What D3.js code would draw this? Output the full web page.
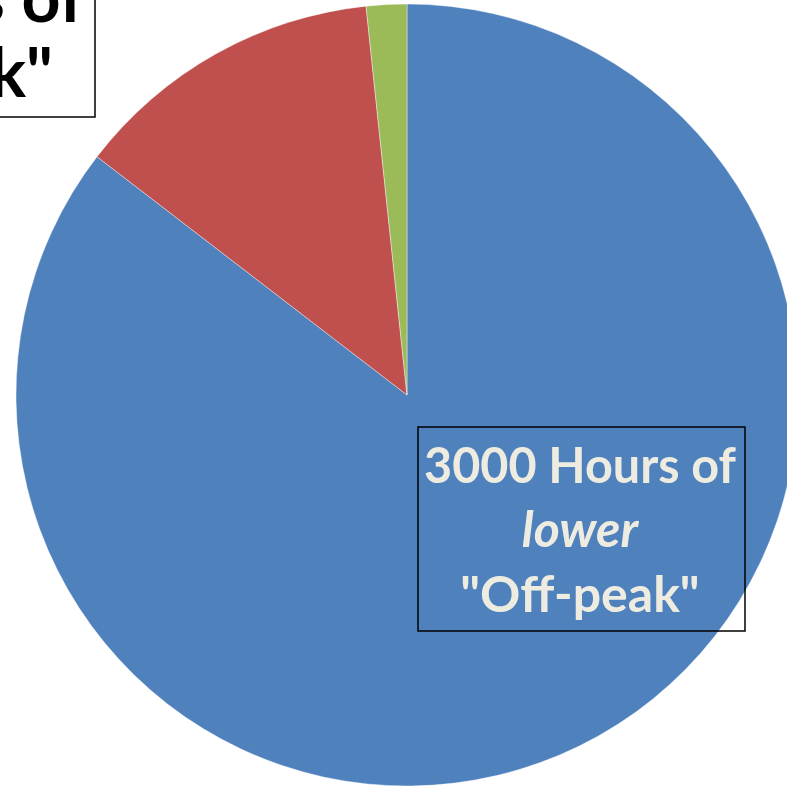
<!DOCTYPE html>
<html>
<head>
<meta charset="utf-8">
<script src="https://cdn.jsdelivr.net/npm/d3@7"></script>
<style>
  html, body { margin: 0; padding: 0; background: #ffffff; overflow: hidden; }
  svg { display: block; }
</style>
</head>
<body>
<div id="chart"></div>
<script>
// Share of the year by tariff period (percent of total)
const categories = ["Off-peak", "Peak", "Critical peak"];
const values = [85.43, 12.90, 1.67];
const colors = ["#4F81BD", "#C0504D", "#9BBB59"];

// Callout texts
const offPeakLines = [
  { text: "3000 Hours of", italic: false },
  { text: "lower", italic: true },
  { text: "\"Off-peak\"", italic: false }
];
const peakLines = ["Hours of", "\"On-peak\""];

const W = 787, H = 788;
const cx = 407, cy = 395, R = 391;

const svg = d3.select("#chart").append("svg")
  .attr("width", W).attr("height", H);

const pie = d3.pie().sort(null).value(d => d.value).startAngle(0).endAngle(2 * Math.PI);
const arc = d3.arc().innerRadius(0).outerRadius(R);

const data = categories.map((c, i) => ({ name: c, value: values[i], color: colors[i] }));

svg.append("g")
  .attr("transform", `translate(${cx},${cy})`)
  .selectAll("path")
  .data(pie(data))
  .join("path")
  .attr("d", arc)
  .attr("fill", d => d.data.color)
  .attr("stroke", "#ffffff")
  .attr("stroke-width", 0.4);

const font = "Lato, Calibri, 'Liberation Sans', sans-serif";

// Off-peak callout box
const box = { x: 418, y: 427, w: 327, h: 204 };
svg.append("rect")
  .attr("x", box.x).attr("y", box.y)
  .attr("width", box.w).attr("height", box.h)
  .attr("fill", "none").attr("stroke", "#000000").attr("stroke-width", 1.5);

const baselines = [483, 547, 612];
const targetW = [312, 123, 240];
svg.append("g").selectAll("text")
  .data(offPeakLines)
  .join("text")
  .attr("x", 580)
  .attr("y", (d, i) => baselines[i])
  .attr("text-anchor", "middle")
  .attr("font-family", font)
  .attr("font-weight", "bold")
  .attr("font-style", d => d.italic ? "italic" : "normal")
  .attr("font-size", 50)
  .attr("fill", "#EEECE1")
  .text(d => d.text)
  .each(function (d, i) {
    const w = this.getComputedTextLength();
    if (w > targetW[i]) {
      d3.select(this).attr("textLength", targetW[i]).attr("lengthAdjust", "spacingAndGlyphs");
    }
  });

// Peak callout box, partly outside the view
const clip = svg.append("clipPath").attr("id", "peakClip");
clip.append("rect").attr("x", -400).attr("y", -100).attr("width", 478).attr("height", 300);

svg.append("rect")
  .attr("x", -300).attr("y", -60)
  .attr("width", 395).attr("height", 177)
  .attr("fill", "#ffffff").attr("stroke", "#000000").attr("stroke-width", 1.5);

const peakG = svg.append("g").attr("clip-path", "url(#peakClip)");
const peakBase = [22, 97];
const peakEnd = [84, 53];
peakG.selectAll("text")
  .data(peakLines)
  .join("text")
  .attr("x", (d, i) => peakEnd[i])
  .attr("y", (d, i) => peakBase[i])
  .attr("text-anchor", "end")
  .attr("font-family", font)
  .attr("font-weight", "bold")
  .attr("font-size", 68)
  .attr("fill", "#000000")
  .text(d => d);
</script>
</body>
</html>
